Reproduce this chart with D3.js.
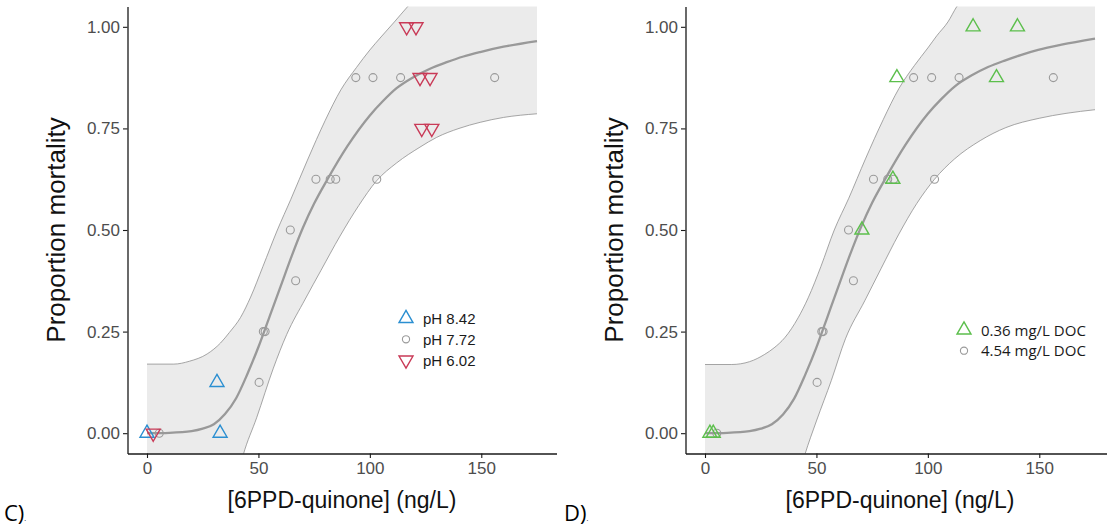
<!DOCTYPE html>
<html>
<head>
<meta charset="utf-8">
<script src="https://cdn.jsdelivr.net/npm/d3@7"></script>
<style>
body{margin:0;background:#fff;}
svg{display:block;}
</style>
</head>
<body>
<svg id="chart" width="1107" height="531"></svg>
<script>

// axis ticks
var doseTicks = [0, 50, 100, 150];
var mortTicks = [0, 0.25, 0.5, 0.75, 1];

// panel C points: [dose ng/L, proportion mortality]
var ph842 = [[0,0],[31.4,0.125],[32.8,0]];
var ph772 = [[5.5,0],[50.3,0.125],[52.2,0.25],[53,0.25],[64.3,0.5],[66.7,0.375],[75.8,0.625],[82.2,0.625],[84.7,0.625],[103.1,0.625],[93.7,0.875],[101.4,0.875],[113.8,0.875],[156,0.875]];
var ph602 = [[2.8,0],[116.5,1],[120.7,1],[122.5,0.875],[127,0.875],[123.3,0.75],[127.8,0.75]];

// panel C fitted curve and confidence band
var phFit = [[0,0],[10,0.001],[20,0.005],[25,0.011],[30,0.022],[35,0.047],[40,0.086],[45,0.145],[50,0.212],[55,0.287],[60,0.362],[65,0.437],[70,0.506],[75,0.565],[81,0.625],[90,0.707],[100,0.782],[106,0.818],[112,0.849],[119.5,0.876],[127,0.897],[134.5,0.913],[142,0.927],[149.5,0.938],[160,0.951],[175,0.965]];
var phUpper = [[0,0.17],[12,0.17],[19,0.177],[27,0.195],[33,0.222],[37,0.248],[42,0.285],[46.5,0.335],[52,0.41],[58.5,0.5],[64.5,0.575],[72,0.672],[80,0.77],[87,0.845],[94,0.9],[100,0.943],[105,0.975],[111,1.012],[117,1.05],[125,1.095],[140,1.15],[175,1.22]];
var phLower = [[0,-0.3],[30,-0.3],[38,-0.17],[43.2,-0.053],[49.2,0.038],[56.7,0.16],[62.7,0.243],[71,0.33],[78,0.4],[86.6,0.485],[95,0.56],[103,0.621],[112,0.665],[122.5,0.704],[130,0.728],[140,0.75],[149.5,0.765],[160,0.777],[175,0.786]];

// panel D points
var doc036 = [[2.2,0],[3.7,0],[70.4,0.5],[84.3,0.625],[86.1,0.875],[120.3,1],[140.2,1],[130.8,0.875]];
var doc454 = [[5.3,0],[50.3,0.125],[52.4,0.25],[53,0.25],[64.4,0.5],[66.6,0.375],[75.6,0.625],[82,0.625],[84.7,0.625],[103,0.625],[93.6,0.875],[101.7,0.875],[114,0.875],[156.3,0.875]];

// panel D fitted curve and band
var docFit = [[0,0],[10,0.001],[20,0.005],[25,0.011],[30,0.022],[35,0.046],[40,0.085],[45,0.144],[50,0.211],[55,0.287],[60,0.363],[65,0.438],[70,0.507],[75,0.567],[81,0.627],[90,0.71],[100,0.786],[106,0.822],[112,0.853],[119.5,0.88],[127,0.901],[134.5,0.917],[142,0.931],[149.5,0.943],[160,0.956],[175,0.971]];
var docUpper = [[0,0.169],[12,0.169],[20,0.176],[26.8,0.194],[31,0.21],[35.8,0.235],[41.8,0.284],[46.3,0.333],[52,0.41],[58,0.5],[64.5,0.578],[72,0.675],[80,0.772],[87,0.848],[94,0.905],[100,0.948],[104,0.978],[109,1.012],[113,1.05],[125,1.11],[140,1.16],[175,1.23]];
var docLower = [[0,-0.3],[30,-0.3],[39,-0.17],[44.8,-0.053],[50,0.03],[56.7,0.13],[63,0.232],[71.7,0.326],[79,0.405],[87,0.49],[95,0.565],[103,0.625],[112,0.675],[123.5,0.72],[135,0.752],[150,0.775],[162,0.787],[175,0.796]];

var BLUE = "#2b8fd1", RED = "#c93a57", GREEN = "#5cbf4c", GREY = "#9a9a9a";

var svg = d3.select("#chart");

var x = d3.scaleLinear().domain([-8.75, 183.75]).range([127.5, 556.5]);
var y = d3.scaleLinear().domain([-0.05, 1.05]).range([453.5, 6.5]);

function triPath(s, down){
	var r = s / Math.sqrt(3), h = s / 2;
	var y0 = down ? r : -r, y1 = down ? -r / 2 : r / 2;
	return "M0," + y0 + "L" + h + "," + y1 + "L" + (-h) + "," + y1 + "Z";
}

function drawMarks(g, data, shape, color){
	if(shape == "circle"){
		g.selectAll(null).data(data).enter()
			.append("circle")
			.attr("cx", function(d){return x(d[0]);})
			.attr("cy", function(d){return y(d[1]);})
			.attr("r", 4)
			.attr("fill", "none")
			.attr("stroke", color)
			.attr("stroke-width", 1.1);
	}else{
		g.selectAll(null).data(data).enter()
			.append("path")
			.attr("d", triPath(14, shape == "down"))
			.attr("transform", function(d){return "translate(" + x(d[0]) + "," + y(d[1]) + ")";})
			.attr("fill", "none")
			.attr("stroke", color)
			.attr("stroke-width", 1.4);
	}
}

function drawPanel(args){
	var g = svg.append("g").attr("transform", "translate(" + args.dx + ",0)");

	g.append("clipPath").attr("id", args.id + "-clip")
		.append("rect")
		.attr("x", x.range()[0]).attr("y", y.range()[1])
		.attr("width", x.range()[1] - x.range()[0])
		.attr("height", y.range()[0] - y.range()[1]);

	var plot = g.append("g").attr("clip-path", "url(#" + args.id + "-clip)");

	var line = d3.line()
		.x(function(d){return x(d[0]);})
		.y(function(d){return y(d[1]);})
		.curve(d3.curveMonotoneX);

	// band fill: walk the smoothed upper line forward and the lower line back
	var area = plot.append("path").attr("fill", "#ebebeb").attr("stroke", "none");
	var upperLine = plot.append("path").attr("d", line(args.upper))
		.attr("fill", "none").attr("stroke", "#8f8f8f").attr("stroke-width", 0.8);
	var lowerLine = plot.append("path").attr("d", line(args.lower))
		.attr("fill", "none").attr("stroke", "#8f8f8f").attr("stroke-width", 0.8);
	var un = upperLine.node(), ln = lowerLine.node();
	var L1 = un.getTotalLength(), L2 = ln.getTotalLength(), pts = [], i, p;
	for(i = 0; i <= 300; i++){ p = un.getPointAtLength(L1 * i / 300); pts.push([p.x, p.y]); }
	for(i = 300; i >= 0; i--){ p = ln.getPointAtLength(L2 * i / 300); pts.push([p.x, p.y]); }
	area.attr("d", "M" + pts.join("L") + "Z");

	plot.append("path").attr("d", line(args.fit))
		.attr("fill", "none").attr("stroke", "#999").attr("stroke-width", 2.3);

	var pg = g.append("g");
	args.series.forEach(function(s){
		drawMarks(pg, s.data, s.shape, s.color);
	});

	// axes
	var xAxis = g.append("g").attr("transform", "translate(0," + y.range()[0] + ")")
		.call(d3.axisBottom(x).tickValues(doseTicks).tickSize(4.5).tickPadding(4).tickSizeOuter(0));
	var yAxis = g.append("g").attr("transform", "translate(" + x.range()[0] + ",0)")
		.call(d3.axisLeft(y).tickValues(mortTicks).tickSize(4.5).tickPadding(3).tickSizeOuter(0)
			.tickFormat(d3.format(".2f")));
	[xAxis, yAxis].forEach(function(a){
		a.select(".domain").attr("stroke", "#1a1a1a").attr("stroke-width", 1.3);
		a.selectAll(".tick line").attr("stroke", "#1a1a1a").attr("stroke-width", 1.1);
		a.selectAll(".tick text").attr("fill", "#4d4d4d")
			.style("font-family", "'Liberation Sans', Arial, sans-serif").style("font-size", "17px");
	});

	g.append("text")
		.attr("x", (x.range()[0] + x.range()[1]) / 2)
		.attr("y", 508)
		.attr("text-anchor", "middle")
		.style("font-family", "'Liberation Sans', Arial, sans-serif")
		.style("font-size", "23px")
		.attr("fill", "#111")
		.text("[6PPD-quinone] (ng/L)");

	g.append("text")
		.attr("transform", "translate(65," + (y.range()[0] + y.range()[1]) / 2 + ") rotate(-90)")
		.attr("text-anchor", "middle")
		.style("font-family", "'Liberation Sans', Arial, sans-serif")
		.style("font-size", "26px")
		.attr("fill", "#111")
		.text("Proportion mortality");

	// legend
	var lg = g.append("g").attr("transform", "translate(406," + args.legendY + ")");
	args.series.slice().sort(function(a, b){return a.order - b.order;}).forEach(function(s, k){
		var row = lg.append("g").attr("transform", "translate(0," + (k * args.legendStep) + ")");
		if(s.shape == "circle"){
			row.append("circle").attr("r", 3.6).attr("fill", "none").attr("stroke", s.color).attr("stroke-width", 1.1);
		}else{
			row.append("path").attr("d", triPath(14, s.shape == "down"))
				.attr("fill", "none").attr("stroke", s.color).attr("stroke-width", 1.4);
		}
		row.append("text").attr("x", 17).attr("y", 5.5)
			.style("font-family", args.legendFont)
			.style("font-size", args.legendSize)
			.attr("fill", "#1a1a1a")
			.text(s.label);
	});

	svg.append("text")
		.attr("x", args.labelX).attr("y", 521)
		.style("font-family", "'Open Sans', 'Noto Sans', sans-serif")
		.style("font-size", "22px")
		.attr("fill", "#000")
		.text(args.tag)
		.append("tspan").style("font-size", "7px").text(".");
}

drawPanel({
	id: "c", dx: 0, tag: "C)", labelX: 4,
	fit: phFit, upper: phUpper, lower: phLower,
	legendY: 318.5, legendStep: 20.8, legendFont: "'Liberation Sans', Arial, sans-serif", legendSize: "15px",
	series: [
		{label: "pH 7.72", data: ph772, shape: "circle", color: GREY, order: 1},
		{label: "pH 8.42", data: ph842, shape: "up", color: BLUE, order: 0},
		{label: "pH 6.02", data: ph602, shape: "down", color: RED, order: 2}
	]
});

drawPanel({
	id: "d", dx: 558, tag: "D)", labelX: 564,
	fit: docFit, upper: docUpper, lower: docLower,
	legendY: 330, legendStep: 20.7, legendFont: "'Open Sans', 'Noto Sans', sans-serif", legendSize: "15px",
	series: [
		{label: "4.54 mg/L DOC", data: doc454, shape: "circle", color: GREY, order: 1},
		{label: "0.36 mg/L DOC", data: doc036, shape: "up", color: GREEN, order: 0}
	]
});

</script>
</body>
</html>
